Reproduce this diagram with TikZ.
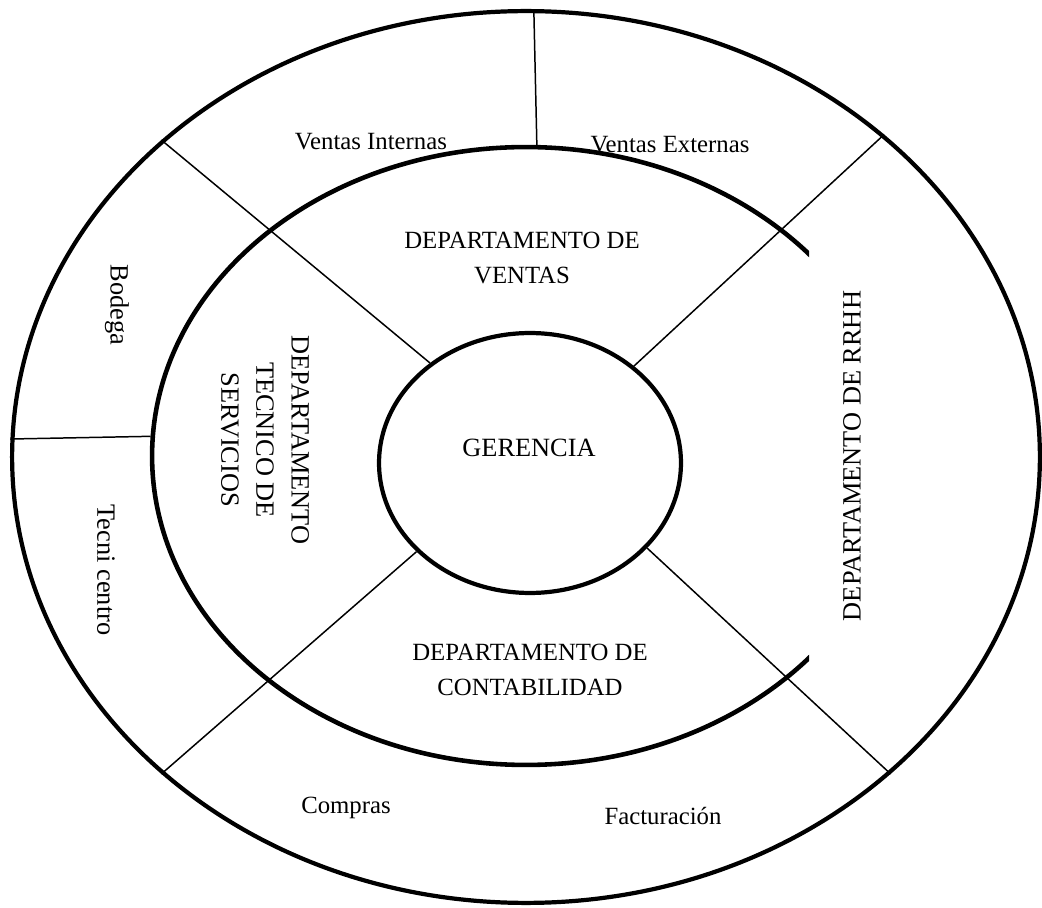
\documentclass[tikz,border=0pt]{standalone}
\usepackage{fontspec}
\setmainfont{Liberation Serif}
\usetikzlibrary{shapes.geometric}
\tikzset{
  every picture/.style={line width=0.85pt},
  ring/.style={draw, ellipse, line width=#1, inner sep=0pt},
  ring/.default=2.4pt,
  area/.style={font=\fontsize{14.1}{20}\selectfont, align=center, inner sep=0pt},
  bigarea/.style={font=\fontsize{15}{20}\selectfont, align=center, inner sep=0pt},
  divider/.style={line width=0.85pt},
}

\begin{document}
\begin{tikzpicture}[x=0.02cm, y=-0.02cm]
  \useasboundingbox[fill=white] (0,0) rectangle (1042,908);
  % rings
  \node[ring, minimum width=20.56cm, minimum height=17.84cm] (outer) at (526,457) {};
  \begin{scope}
    \clip (0,0) rectangle (809,908);
    \node[ring=2.6pt, minimum width=14.96cm, minimum height=12.36cm] (middle) at (526,456) {};
  \end{scope}
  \node[ring, minimum width=6.04cm, minimum height=5.2cm] (inner) at (530,463) {};
  % dividers
  \draw[divider] (outer.139.6) -- (inner.135);
  \draw[divider] (outer.42.1) -- (inner.43.6);
  \draw[divider] (outer.221.5) -- (inner.218.2);
  \draw[divider] (outer.319.4) -- (inner.324.3);
  \draw[divider] (outer.89.4) -- (middle.88.8);
  \draw[divider] (outer.178.3) -- (middle.177.9);
  % centre
  \node[bigarea, anchor=base] (gerencia) at (529,457) {GERENCIA};
  % departments
  \node[area] (dventas) at (522,258) {DEPARTAMENTO DE\\VENTAS};
  \node[area] (dconta) at (530,670) {DEPARTAMENTO DE\\CONTABILIDAD};
  \node[bigarea, rotate=-90] (dtecnico) at (265,440) {DEPARTAMENTO\\TECNICO DE\\SERVICIOS};
  \node[bigarea, rotate=90] (drrhh) at (852,456) {DEPARTAMENTO DE RRHH};
  % sections
  \node[area, anchor=base] (ventasint) at (371,150) {Ventas Internas};
  \node[area, anchor=base] (ventasext) at (670,153) {Ventas Externas};
  \node[area, anchor=base] (compras) at (346,813) {Compras};
  \node[area, anchor=base] (facturacion) at (663,825) {Facturación};
  \node[bigarea, rotate=-90] (bodega) at (117,305) {Bodega};
  \node[bigarea, rotate=-90] (tecnicentro) at (106,570) {Tecni centro};
\end{tikzpicture}
\end{document}
